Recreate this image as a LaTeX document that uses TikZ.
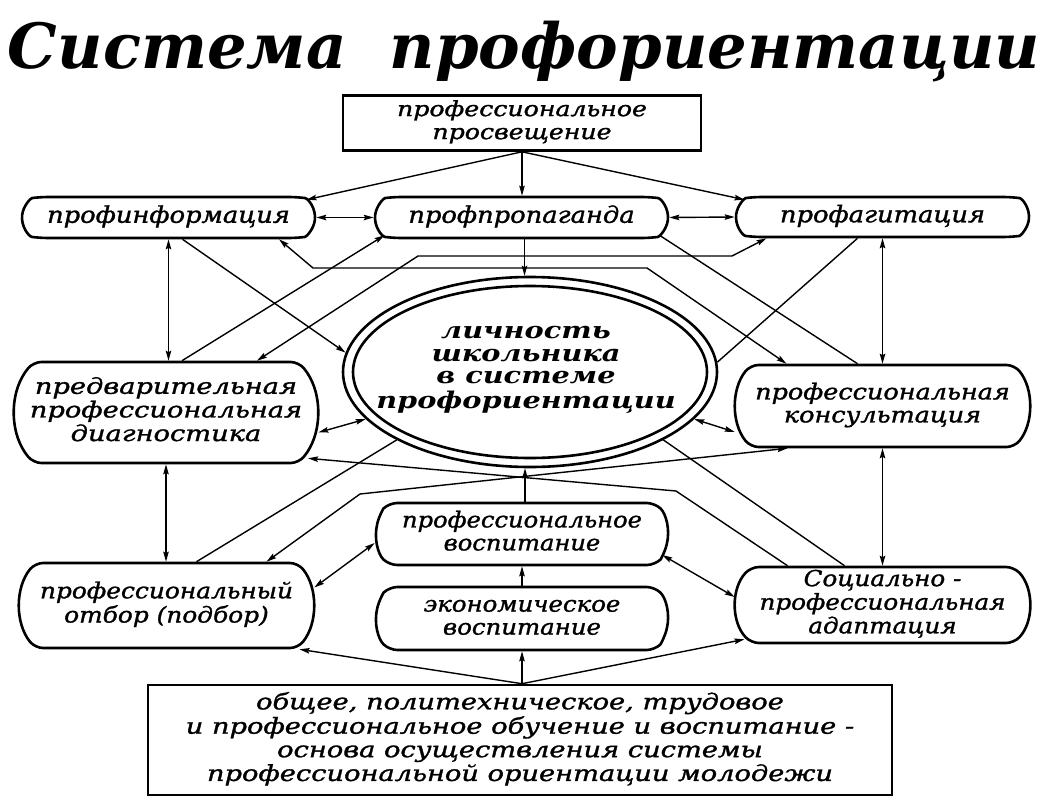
\documentclass[tikz,border=0pt]{standalone}
\usepackage{fontspec}
\usepackage{graphicx}
\setmainfont{DejaVu Serif}[ItalicFeatures={FakeBold=1.2}]
\usetikzlibrary{arrows.meta,shapes.misc,shapes.geometric,calc}
\newcommand\xw[2]{\scalebox{#1}[1]{\begin{tabular}{@{}c@{}}#2\end{tabular}}}
\begin{document}
\begin{tikzpicture}[x=1pt,y=-1pt,
  >={Stealth[length=10pt,width=5.5pt,inset=1.5pt]},
  frame/.style={draw, line width=2.6pt, inner sep=0pt},
  pill/.style={rounded rectangle, draw, line width=2.6pt, inner sep=0pt, minimum width=293pt, rounded corners=8pt},
  lbl/.style={inner sep=0pt, font=\fontsize{23}{23}\selectfont\itshape},
  tall/.style={inner sep=0pt, font=\fontsize{22}{23}\selectfont\itshape},
  boldlbl/.style={inner sep=0pt, font=\fontsize{23}{22.5}\selectfont\bfseries\itshape},
  conn/.style={line width=1.4pt, sharp corners}
]
\fill[white] (0,0) rectangle (1048,797);
\useasboundingbox (0,0) rectangle (1048,797);

% title
\node[anchor=base, inner sep=0pt, font=\bfseries\itshape] (title) at (524,69)
  {\resizebox{1032pt}{!}{Система\ \ профориентации}};

% boxes
\node[frame, minimum width=358pt, minimum height=55pt, font=\fontsize{21}{23}\selectfont\itshape]
  (top) at (522,123) {\xw{1.2}{профессиональное\\просвещение}};

\node[pill, minimum height=41pt, rounded rectangle arc length=165,
  label={[lbl]center:{\xw{1.12}{профинформация}}}] (info) at (168.5,217.5) {};
\node[pill, minimum height=41pt, rounded rectangle arc length=165,
  label={[lbl]center:{\xw{1.12}{профпропаганда}}}] (prop) at (521.5,217.5) {};
\node[pill, minimum height=40pt, rounded rectangle arc length=165,
  label={[lbl]center:{\xw{1.12}{профагитация}}}] (agit) at (882.5,217) {};

\node[ellipse, draw, line width=2.6pt, inner sep=0pt, minimum width=374pt, minimum height=190pt,
  label={[boldlbl, xshift=-4pt, yshift=3pt]center:{\xw{1.25}{личность\\школьника\\в системе\\профориентации}}}]
  (ell) at (530,372) {};
\draw[line width=2.6pt] (ell.center) ellipse [x radius=177pt, y radius=86pt];

\node[pill, minimum width=302pt, minimum height=101pt, rounded rectangle arc length=80,
  label={[tall]center:{\xw{1.24}{предварительная\\профессиональная\\диагностика}}}]
  (diag) at (166,412.5) {};
\node[pill, minimum height=82pt, rounded rectangle arc length=78,
  label={[tall]center:{\xw{1.16}{профессиональная\\консультация}}}]
  (kons) at (882.5,406) {};
\node[pill, minimum width=292pt, minimum height=62pt, rounded rectangle arc length=92,
  label={[tall]center:{\xw{1.1}{профессиональное\\воспитание}}}]
  (vosp) at (522,534) {};
\node[pill, minimum width=292pt, minimum height=63pt, rounded rectangle arc length=92,
  label={[tall]center:{\xw{1.11}{экономическое\\воспитание}}}]
  (econ) at (522,618.5) {};
\node[pill, minimum height=85pt, rounded rectangle arc length=78,
  label={[tall]center:{\xw{1.13}{профессиональный\\отбор (подбор)}}}]
  (otbor) at (166.5,605.5) {};
\node[pill, minimum height=76pt, rounded rectangle arc length=86,
  label={[tall]center:{\xw{1.12}{Социально -\\профессиональная\\адаптация}}}]
  (adapt) at (882.5,605) {};

\node[frame, minimum width=744pt, minimum height=110pt, font=\fontsize{22}{23.5}\selectfont\itshape]
  (bot) at (520,740) {\xw{1.24}{общее, политехническое, трудовое\\и профессиональное обучение и воспитание -\\основа осуществления системы\\профессиональной ориентации молодежи}};

% bend points
\coordinate (c1) at (418,256);
\coordinate (c2) at (732,256);
\coordinate (c3) at (313,268);
\coordinate (c4) at (647,268);
\coordinate (c5) at (676,491);
\coordinate (c6) at (360,494);

% connectors
\draw[conn,->] (top.south) -- (top.south |- prop.north);
\draw[conn,->] (top.south) -- ([xshift=138pt,yshift=-4pt]info.north);
\draw[conn,->] (top.south) -- ([xshift=-138pt,yshift=-4pt]agit.north);
\draw[conn,<->] (info.east) -- (prop.west);
\draw[conn,<->] (prop.east) -- (agit.west);
\draw[conn,<->] (info.south) -- (info.south |- diag.north);
\draw[conn,<->] (diag.south) -- (diag.south |- otbor.north);
\draw[conn,<->] (agit.south) -- (agit.south |- kons.north);
\draw[conn,<->] (kons.south) -- (kons.south |- adapt.north);
\draw[conn,->] ([xshift=3pt]prop.south) -- ([xshift=3pt]prop.south |- ell.north);
\draw[conn,->] ([xshift=3pt]vosp.north) -- ([xshift=3pt]vosp.north |- ell.south);
\draw[conn,->] (econ.north) -- (vosp.south);
\draw[conn,->] ([xshift=2pt]bot.north) -- (econ.south);
\draw[conn,->] ([xshift=2pt]bot.north) -- ([xshift=133pt]otbor.south);
\draw[conn,->] ([xshift=2pt]bot.north) -- ([xshift=-138pt,yshift=5pt]adapt.south);

\draw[conn,->] ([xshift=14pt]info.south) -- (ell.174);
\draw[conn,->] ([xshift=16pt]diag.north) -- ([xshift=-137pt,yshift=4pt]prop.south);
\draw[conn,<->] ([xshift=91pt]diag.north) -- (c1) -- (c2) -- ([xshift=-116pt]agit.south);
\draw[conn,<->] ([xshift=110.5pt]info.south) -- (c3) -- (c4) -- ([xshift=-96pt]kons.north);
\draw[conn] ([xshift=138pt,yshift=4pt]prop.south) -- ([xshift=-25pt]kons.north);
\draw[conn] ([xshift=-25pt]agit.south) -- (ell.3);
\draw[conn,<->] ([yshift=-20pt]diag.east) -- (ell.196);
\draw[conn,<->] ([yshift=-26pt]kons.west) -- (ell.-16);
\draw[conn,<-] ([xshift=142pt,yshift=6pt]diag.south) -- (c5) -- ([xshift=-95pt]adapt.north);
\draw[conn,<->] ([xshift=100pt]otbor.north) -- (c6) -- ([xshift=-95pt]kons.south);
\draw[conn] (ell.207) -- ([xshift=30pt]otbor.north);
\draw[conn] (ell.-27) -- ([xshift=-38pt]adapt.north);
\draw[conn,<->] ([yshift=-9pt]vosp.west) -- ([yshift=18pt]otbor.east);
\draw[conn,<->] ([xshift=-7pt,yshift=-21pt]vosp.east) -- ([yshift=8pt]adapt.west);
\end{tikzpicture}
\end{document}
